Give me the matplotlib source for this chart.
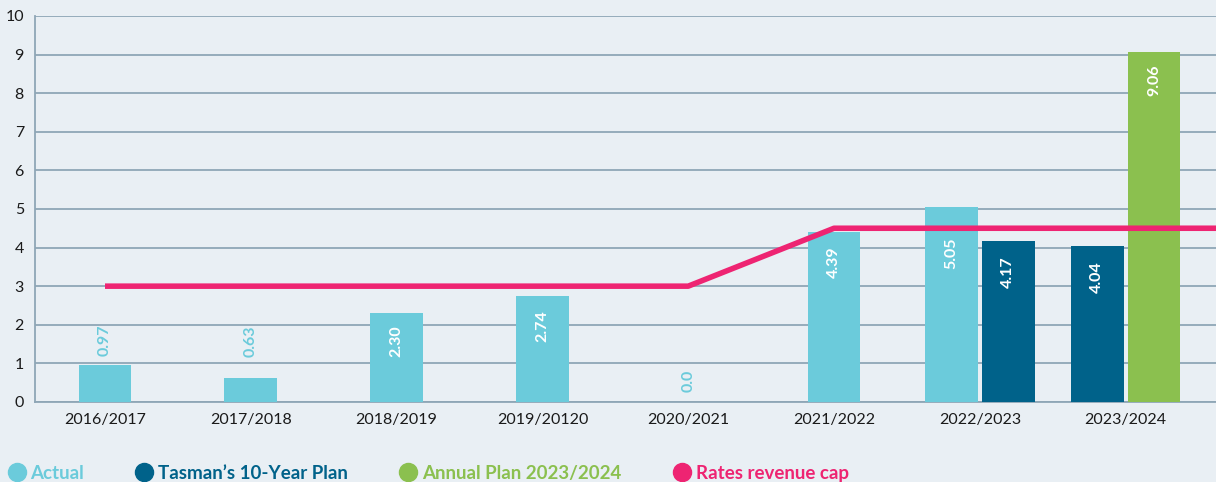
import numpy as np
import matplotlib.pyplot as plt
from matplotlib.lines import Line2D

plt.rcParams['font.family'] = ['Lato', 'DejaVu Sans']

# data
years = ['2016/2017', '2017/2018', '2018/2019', '2019/20120', '2020/2021',
         '2021/2022', '2022/2023', '2023/2024']
actual = [0.97, 0.63, 2.30, 2.74, 0.0, 4.39, 5.05, None]
actual_txt = ['0.97', '0.63', '2.30', '2.74', '0.0', '4.39', '5.05', None]
tasman = [None, None, None, None, None, None, 4.17, 4.04]
tasman_txt = [None, None, None, None, None, None, '4.17', '4.04']
annual = [None, None, None, None, None, None, None, 9.06]
annual_txt = [None, None, None, None, None, None, None, '9.06']
cap = [3, 3, 3, 3, 3, 4.5, 4.5, 4.5]

c_act = '#6BCBDB'
c_tas = '#00628A'
c_ann = '#8BC04F'
c_cap = '#EE2472'
bg = '#E9EFF4'
grid = '#8FA6B6'

fig = plt.figure(figsize=(12.16, 4.82), dpi=100, facecolor=bg)
ax = fig.add_axes([0.0288, 0.166, 0.9712, 0.801])
ax.set_facecolor(bg)

w = 0.363
off = 0.195
x = np.arange(len(years))

def draw(series, texts, color, shift, pad):
    for i, v in enumerate(series):
        if v is None:
            continue
        xi = x[i] + shift[i]
        if v > 0:
            ax.bar(xi, v, width=w, color=color, zorder=3)
        if v > 1.5:
            ax.annotate(texts[i], (xi, v), xytext=(0, -pad[i]), textcoords='offset points',
                        rotation=90, ha='center', va='top', color='white',
                        fontsize=11.5, fontweight='bold', zorder=4)
        else:
            ax.annotate(texts[i], (xi, v), xytext=(0, pad[i]), textcoords='offset points',
                        rotation=90, ha='center', va='bottom', color=color,
                        fontsize=11.5, fontweight='bold', zorder=4)

# group layout: two bars side by side where a group has two series
sh_act = [0, 0, 0, 0, 0, 0, -off, 0]
sh_tas = [0, 0, 0, 0, 0, 0, off, -off]
sh_ann = [0, 0, 0, 0, 0, 0, 0, off]
draw(actual, actual_txt, c_act, sh_act, [6, 15, 9, 10, 7, 10, 22, 0])
draw(tasman, tasman_txt, c_tas, sh_tas, [0, 0, 0, 0, 0, 0, 11, 11])
draw(annual, annual_txt, c_ann, sh_ann, [0, 0, 0, 0, 0, 0, 0, 9])

xmax = 7.62
ax.plot(list(x) + [xmax], cap + [cap[-1]], color=c_cap, lw=4, zorder=5,
        solid_capstyle='butt')

ax.set_xlim(-0.48, xmax)
ax.set_ylim(0, 10)
ax.set_yticks(range(0, 11))
ax.set_xticks(x)
ax.set_xticklabels(years)
ax.tick_params(length=0, labelsize=11.5, colors='#1a1a1a', pad=8)
ax.tick_params(axis='y', pad=8)
ax.grid(axis='y', color=grid, lw=1.3, zorder=1)
for s in ['top', 'right']:
    ax.spines[s].set_visible(False)
for s in ['left', 'bottom']:
    ax.spines[s].set_color(grid)
    ax.spines[s].set_linewidth(1.3)

labels = ['Actual', "Tasman\u2019s 10-Year Plan", 'Annual Plan 2023/2024', 'Rates revenue cap']
colors = [c_act, c_tas, c_ann, c_cap]
handles = [Line2D([], [], marker='o', ls='', color=c, markersize=13) for c in colors]
leg = fig.legend(handles, labels, loc='lower left', bbox_to_anchor=(-0.008, -0.035),
                 ncol=4, frameon=False, handletextpad=0.25, columnspacing=2.7,
                 prop={'size': 13.5, 'weight': 'bold'}, handlelength=1.0)
for t, c in zip(leg.get_texts(), colors):
    t.set_color(c)

fig.savefig('out.png', dpi=100, facecolor=bg)
